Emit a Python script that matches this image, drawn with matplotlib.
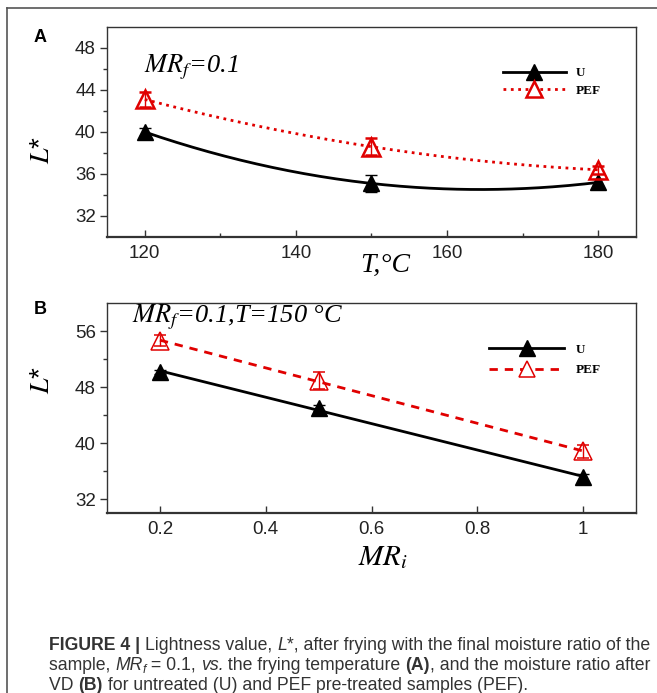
import numpy as np
import matplotlib
matplotlib.use('Agg')
import matplotlib.pyplot as plt
from matplotlib.lines import Line2D
from matplotlib.ticker import FixedLocator, FuncFormatter
from matplotlib.font_manager import FontProperties

# panel A : L* vs frying temperature
temp = [120, 150, 180]
L_U_temp = [40.0, 35.1, 35.2]
L_U_temp_err = [0.4, 0.8, 0.3]
L_PEF_temp = [43.1, 38.6, 36.4]
L_PEF_temp_err = [0.7, 0.8, 0.4]

# panel B : L* vs initial moisture ratio
mr_i = [0.2, 0.5, 1.0]
L_U_mr = [50.1, 45.0, 35.1]
L_U_mr_err = [0.3, 0.4, 0.5]
L_PEF_mr = [54.6, 48.9, 38.8]
L_PEF_mr_err = [0.8, 1.2, 0.9]

xticksA = [120, 140, 160, 180]
xminorA = [130, 150, 170]
yticksA = [32, 36, 40, 44, 48]
yminorA = [34, 38, 42, 46]
xticksB = [0.2, 0.4, 0.6, 0.8, 1.0]
yticksB = [32, 40, 48, 56]
yminorB = [36, 44, 52]

RED = '#e00000'
W, H = 657, 693

fig = plt.figure(figsize=(W/100, H/100), dpi=100)


def px_axes(l, t, r, b):
    return fig.add_axes([l/W, 1-b/H, (r-l)/W, (b-t)/H])


def style_axes(ax):
    for s in ax.spines.values():
        s.set_color('#333333')
        s.set_linewidth(1.0)
    ax.spines['bottom'].set_linewidth(1.6)
    ax.tick_params(axis='y', which='major', direction='out', length=5, width=1, color='#333333',
                   labelsize=13.5, labelcolor='#222222', pad=3)
    ax.tick_params(axis='y', which='minor', direction='out', length=3, width=1, color='#333333')
    ax.tick_params(axis='x', which='major', direction='in', length=5, width=1, color='#333333',
                   labelsize=13.5, labelcolor='#222222', pad=6)
    ax.tick_params(axis='x', which='minor', direction='in', length=3, width=1, color='#333333')
    for lab in ax.get_xticklabels() + ax.get_yticklabels():
        lab.set_family('Liberation Sans')


def ftext(x, y, s, **kw):
    return fig.text(x/W, 1-y/H, s, **kw)


legfont = FontProperties(family='Liberation Serif', weight='bold', size=9.5)

#################################
# A
axA = px_axes(107, 27, 636, 237)
xs = np.linspace(min(temp), max(temp), 200)
fitU = np.polyfit(temp, L_U_temp, 2)
fitP = np.polyfit(temp, L_PEF_temp, 2)
axA.plot(xs, np.polyval(fitU, xs), color='black', lw=2, zorder=2)
axA.plot(xs, np.polyval(fitP, xs), color=RED, lw=2, ls=':', zorder=2)
axA.errorbar(temp, L_U_temp, yerr=L_U_temp_err, fmt='^', color='black', ms=12,
             capsize=4.5, elinewidth=1, capthick=1, zorder=3)
axA.errorbar(temp, L_PEF_temp, yerr=L_PEF_temp_err, fmt='^', color=RED, mfc='none', mec=RED,
             mew=1.8, ms=12.5, capsize=4.5, elinewidth=1, capthick=1, zorder=4)
axA.set_xlim(115, 185)
axA.set_ylim(30, 50)
axA.xaxis.set_major_locator(FixedLocator(xticksA))
axA.xaxis.set_minor_locator(FixedLocator(xminorA))
axA.yaxis.set_major_locator(FixedLocator(yticksA))
axA.yaxis.set_minor_locator(FixedLocator(yminorA))
style_axes(axA)

hU = Line2D([], [], color='black', lw=2, marker='^', ms=11)
hP = Line2D([], [], color=RED, lw=2, ls=':', marker='^', ms=12, mfc='white', mec=RED, mew=1.8)
axA.legend([hU, hP], ['U', 'PEF'], loc='upper left', bbox_to_anchor=(0.748, 0.81),
           frameon=False, prop=legfont, borderpad=0, borderaxespad=0, handlelength=4.8,
           handletextpad=0.7, labelspacing=0.4, numpoints=1)

ftext(144, 67, r'$MR_f$=0.1', family='Liberation Serif', style='italic', fontsize=19,
      va='center', math_fontfamily='stix')
ftext(385, 265, 'T,°C', family='Liberation Serif', style='italic', fontsize=20,
      ha='center', va='center')
ftext(42, 150, r'$L$*', family='Liberation Sans', fontsize=20, rotation=90,
      ha='center', va='center', math_fontfamily='stix')
ftext(40, 38, 'A', family='Liberation Sans', weight='bold', fontsize=13, ha='center', va='center')

#################################
# B
axB = px_axes(107, 303, 636, 513)
xs = np.linspace(min(mr_i), max(mr_i), 50)
linU = np.polyfit(mr_i, L_U_mr, 1)
linP = np.polyfit(mr_i, L_PEF_mr, 1)
axB.plot(xs, np.polyval(linU, xs), color='black', lw=2, zorder=2)
axB.plot(xs, np.polyval(linP, xs), color=RED, lw=2, ls=(0, (3, 2.5)), zorder=2)
axB.errorbar(mr_i, L_U_mr, yerr=L_U_mr_err, fmt='^', color='black', ms=12,
             capsize=4.5, elinewidth=1, capthick=1, zorder=3)
axB.errorbar(mr_i, L_PEF_mr, yerr=L_PEF_mr_err, fmt='^', color=RED, mfc='none', mec=RED,
             mew=1.1, ms=12.5, capsize=4.5, elinewidth=1, capthick=1, zorder=4)
axB.set_xlim(0.1, 1.1)
axB.set_ylim(30, 60)
axB.xaxis.set_major_locator(FixedLocator(xticksB))
axB.xaxis.set_major_formatter(FuncFormatter(lambda v, p: '%g' % v))
axB.yaxis.set_major_locator(FixedLocator(yticksB))
axB.yaxis.set_minor_locator(FixedLocator(yminorB))
style_axes(axB)

hU2 = Line2D([], [], color='black', lw=2, marker='^', ms=11)
hP2 = Line2D([], [], color=RED, lw=2, ls=(0, (3, 2.5)), marker='^', ms=12, mfc='white', mec=RED, mew=1.1)
axB.legend([hU2, hP2], ['U', 'PEF'], loc='upper left', bbox_to_anchor=(0.722, 0.806),
           frameon=False, prop=legfont, borderpad=0, borderaxespad=0, handlelength=5.7,
           handletextpad=0.9, labelspacing=0.6, numpoints=1)

ftext(132, 317, r'$MR_f$=0.1,T=150 °C', family='Liberation Serif', style='italic', fontsize=19,
      va='center', math_fontfamily='stix')
ftext(383, 557, r'$MR_i$', fontsize=21, ha='center', va='center', math_fontfamily='stix')
ftext(42, 380, r'$L$*', family='Liberation Sans', fontsize=20, rotation=90,
      ha='center', va='center', math_fontfamily='stix')
ftext(40, 309, 'B', family='Liberation Sans', weight='bold', fontsize=13, ha='center', va='center')

#################################
# frame lines (left + top)
fig.add_artist(Line2D([7/W, 7/W], [0, 1-8/H], transform=fig.transFigure, color='#555555', lw=1.2))
fig.add_artist(Line2D([7/W, 1], [1-8/H, 1-8/H], transform=fig.transFigure, color='#555555', lw=1.2))

#################################
# caption, drawn piece by piece
renderer = fig.canvas.get_renderer()


def adv(s, prop):
    w1 = renderer.get_text_width_height_descent(s + '|', prop, ismath=False)[0]
    w0 = renderer.get_text_width_height_descent('|', prop, ismath=False)[0]
    return w1 - w0


def run_prop(kw, fs):
    return FontProperties(family='Liberation Sans', weight=kw.get('weight', 'normal'),
                          style=kw.get('style', 'normal'), size=fs * kw.get('scale', 1.0))


def caption_line(x, y, runs, fs):
    for s, kw in runs:
        prop = run_prop(kw, fs)
        fig.text(x/W, 1-(y+kw.get('dy', 0))/H, s, fontproperties=prop, color='#333333',
                 va='baseline')
        x += adv(s, prop)


B_ = {'weight': 'bold'}
I_ = {'style': 'italic'}
N_ = {}
line1 = [('FIGURE 4 | ', B_), ('Lightness value, ', N_), ('L', I_),
         ('*, after frying with the final moisture ratio of the', N_)]
line2 = [('sample, ', N_), ('MR', I_), ('f', {'style': 'italic', 'scale': 0.7, 'dy': 3}),
         (' = 0.1, ', N_), ('vs.', I_), (' the frying temperature ', N_), ('(A)', B_),
         (', and the moisture ratio after', N_)]
line3 = [('VD ', N_), ('(B)', B_), (' for untreated (U) and PEF pre-treated samples (PEF).', N_)]

# font size chosen so that the first line spans the same width as the reference
w10 = sum(adv(s, run_prop(kw, 10)) for s, kw in line1)
cap_fs = 10 * 603 / w10

caption_line(49, 650, line1, cap_fs)
caption_line(49, 670, line2, cap_fs)
caption_line(49, 690, line3, cap_fs)

fig.savefig('out.png', dpi=100)
